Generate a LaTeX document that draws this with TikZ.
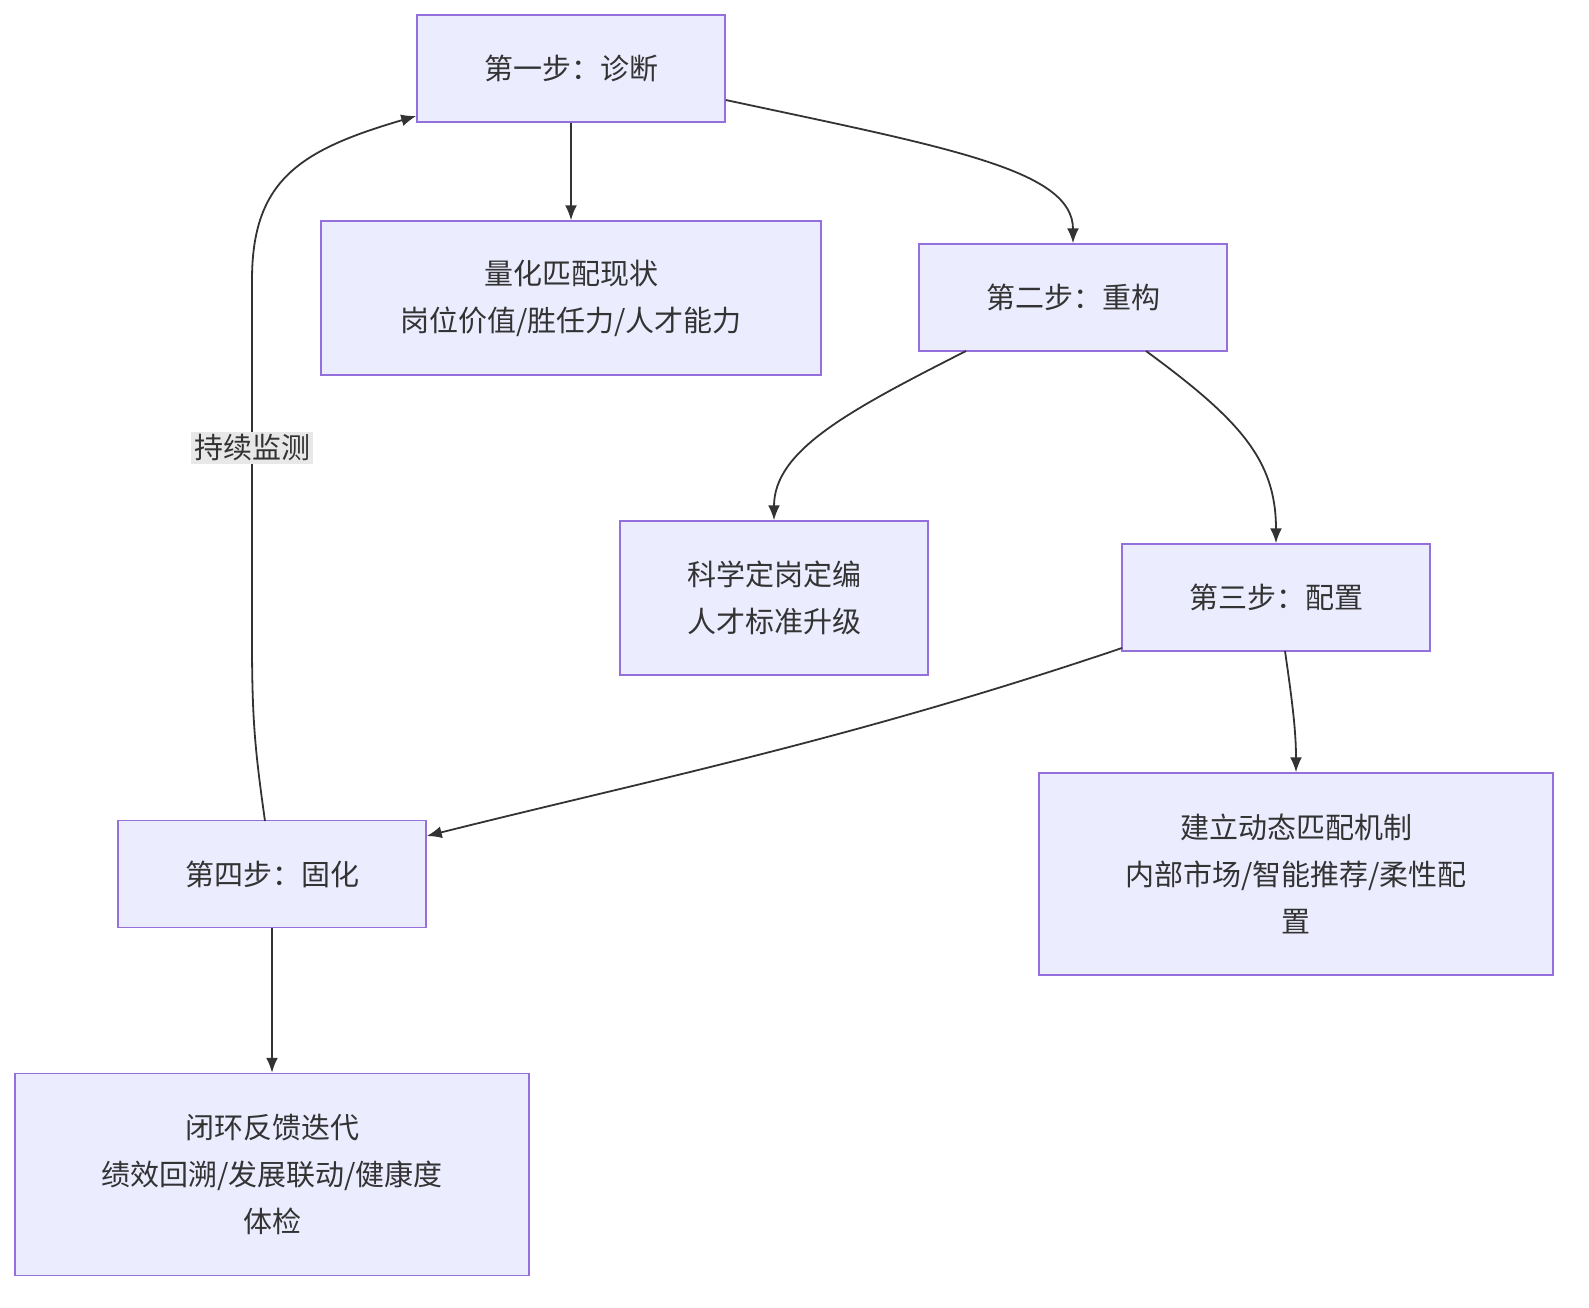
\documentclass[tikz,border=0pt]{standalone}
\usepackage{fontspec}
\setmainfont{Noto Sans CJK SC}
\usetikzlibrary{arrows.meta}
\definecolor{nfill}{HTML}{ECECFF}
\definecolor{nline}{HTML}{9370DB}
\definecolor{eline}{HTML}{333333}
\definecolor{lbl}{HTML}{E8E8E8}
\begin{document}
\begin{tikzpicture}[x=1pt,y=-1pt,
  box/.style={draw=nline,fill=nfill,line width=1.5pt,align=center,inner sep=0pt,
    font=\fontsize{29}{47}\selectfont,text=eline},
  edge/.style={draw=eline,line width=1.8pt,-{Latex[length=15pt,width=12pt]}}]
\node[box,minimum width=308pt,minimum height=107pt] (s1) at (571,68.5) {第一步：诊断};
\node[box,minimum width=500pt,minimum height=154pt] (q1) at (571,298) {量化匹配现状\\岗位价值/胜任力/人才能力};
\node[box,minimum width=308pt,minimum height=107pt] (s2) at (1073,297.5) {第二步：重构};
\node[box,minimum width=308pt,minimum height=154pt] (k) at (774,598) {科学定岗定编\\人才标准升级};
\node[box,minimum width=308pt,minimum height=107pt] (s3) at (1276,597.5) {第三步：配置};
\node[box,minimum width=514pt,minimum height=202pt] (j) at (1296,874) {建立动态匹配机制\\内部市场/智能推荐/柔性配\\置};
\node[box,minimum width=308pt,minimum height=107pt] (s4) at (272,874) {第四步：固化};
\node[box,minimum width=514pt,minimum height=202pt] (b) at (272,1174.5) {闭环反馈迭代\\绩效回溯/发展联动/健康度\\体检};
\draw[edge] (s1.south) -- (q1.north);
\draw[edge] (s1.east |- 0,100) .. controls (950,148) and (1073,170) .. (s2.north);
\draw[edge] (966,351) .. controls (850,410) and (774,450) .. (k.north);
\draw[edge] (1146,351) .. controls (1240,420) and (1276,460) .. (s3.north);
\draw[edge] (1122,648) .. controls (850,740) and (650,780) .. (s4.east |- 0,836);
\draw[edge] (1285,651) .. controls (1292,700) and (1296,730) .. (j.north);
\draw[edge] (s4.south) -- (b.north);
\draw[edge] (265,821) .. controls (255,750) and (252,720) .. (252,640) -- (252,280) .. controls (252,180) and (300,150) .. (s1.west |- 0,116);
\node[fill=lbl,inner sep=3pt,text=eline,font=\fontsize{29}{36}\selectfont] (lab) at (252,448) {持续监测};
\pgfresetboundingbox
\useasboundingbox (0,0) rectangle (1589,1308);
\end{tikzpicture}
\end{document}
